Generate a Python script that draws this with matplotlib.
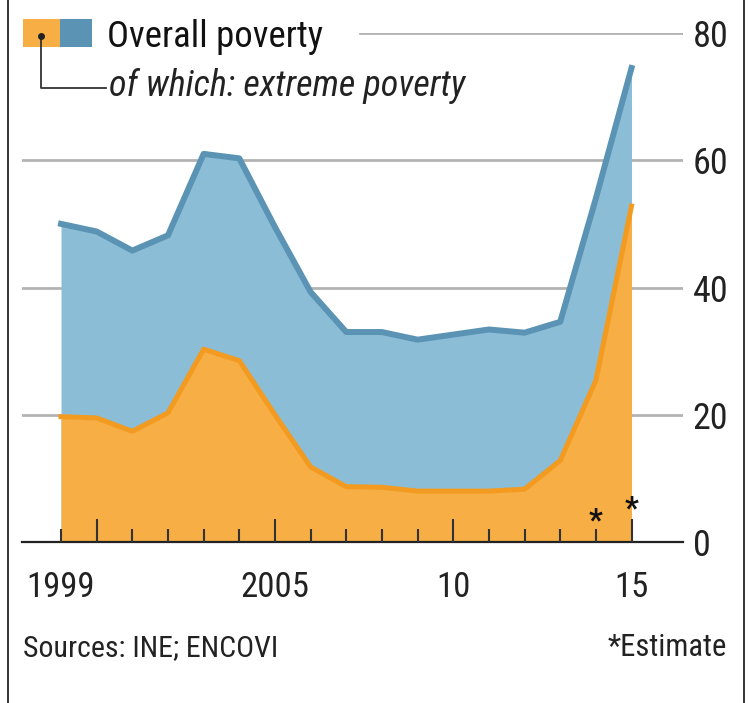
import matplotlib
matplotlib.use("Agg")
import matplotlib.pyplot as plt
from matplotlib.patches import Rectangle
from matplotlib.lines import Line2D

plt.rcParams['font.family'] = ['Liberation Sans Narrow', 'Roboto Condensed', 'Roboto', 'DejaVu Sans']

# data (poverty rate, % of households)
years = list(range(1999, 2016))
overall = [50.0, 48.8, 45.8, 48.2, 61.0, 60.3, 49.5, 39.3, 33.0, 33.0,
           31.8, 32.6, 33.4, 32.9, 34.6, 54.0, 74.5]
extreme = [19.7, 19.5, 17.4, 20.3, 30.3, 28.5, 20.0, 11.8, 8.7, 8.6,
           8.0, 8.0, 8.0, 8.3, 12.8, 25.4, 52.8]
estimate_years = [2014, 2015]
xlabels = {1999: "1999", 2005: "2005", 2010: "10", 2015: "15"}
yticks = [0, 20, 40, 60, 80]

W, H = 749, 703
blue_fill = "#8bbdd6"
blue_line = "#5a93b3"
orange_fill = "#f6ae45"
orange_line = "#f39b20"
grid_col = "#b3b3b3"
txt = "#222222"


def px(x, y):
    # pixel position -> figure fraction
    return x / W, 1 - y / H


fig = plt.figure(figsize=(W / 100, H / 100), dpi=100)
ax = fig.add_axes([22 / W, (H - 542) / H, 661 / W, 509 / H])

# gridlines
for v in yticks[1:-1]:
    ax.axhline(v, color=grid_col, lw=2, zorder=0)
ax.axhline(yticks[-1], xmin=0.511, xmax=1, color=grid_col, lw=2, zorder=0)

# areas
ax.fill_between(years, 0, overall, color=blue_fill, lw=0, zorder=1)
ax.plot(years, overall, color=blue_line, lw=4.3, zorder=2)
ax.fill_between(years, 0, extreme, color=orange_fill, lw=0, zorder=3)
ax.plot(years, extreme, color=orange_line, lw=3.6, zorder=4)

ax.set_xlim(1997.906, 2016.444)
ax.set_ylim(0, 80)

for s in ["top", "left", "right"]:
    ax.spines[s].set_visible(False)
ax.spines["bottom"].set_color(txt)
ax.spines["bottom"].set_linewidth(1.6)
ax.spines["bottom"].set_zorder(6)
ax.xaxis.set_zorder(6)

ax.set_xticks(years)
ax.set_xticklabels([xlabels.get(y, "") for y in years], fontsize=25, color=txt)
ax.tick_params(axis="x", direction="in", width=1.5, color="#333333", pad=21)
for y, tick in zip(years, ax.xaxis.get_major_ticks()):
    tick.tick1line.set_markersize(16.5 if y % 5 == 0 else 9.4)

ax.yaxis.tick_right()
ax.set_yticks(yticks)
ax.set_yticklabels([str(v) for v in yticks], fontsize=26, color=txt)
ax.tick_params(axis="y", length=0, pad=7)

# estimate markers
for i, yr in enumerate(estimate_years):
    ax.annotate("*", xy=(yr, 0), xytext=(0, 22 + 12 * i), textcoords="offset pixels",
                ha="center", va="center", fontsize=22, fontweight="bold",
                color="#111111", zorder=7)

# legend
x0, y0 = px(23, 47)
fig.patches.append(Rectangle((x0, y0), 37 / W, 28 / H, transform=fig.transFigure,
                             color=orange_fill, lw=0))
x0, y0 = px(60, 47)
fig.patches.append(Rectangle((x0, y0), 32 / W, 28 / H, transform=fig.transFigure,
                             color=blue_line, lw=0))
xs, ys = zip(px(41, 36), px(41, 88), px(106, 88))
fig.add_artist(Line2D(xs, ys, transform=fig.transFigure, color="#333333", lw=1.3))
fig.add_artist(Line2D([xs[0]], [ys[0]], transform=fig.transFigure, marker="o",
                      markersize=4, color=txt))
fig.text(*px(107, 47), "Overall poverty", fontsize=26.5, color="#111111", va="baseline")
fig.text(*px(109, 96), "of which: extreme poverty", fontsize=26, style="italic",
         color=txt, va="baseline")

# footer
fig.text(*px(23, 656), "Sources: INE; ENCOVI", fontsize=21.5, color=txt, va="baseline")
fig.text(*px(727, 656), "*Estimate", fontsize=22, color=txt, va="baseline", ha="right")

# side frame
for xf in [8, 744]:
    fig.add_artist(Line2D([xf / W] * 2, [0, 1], transform=fig.transFigure, color="#111111", lw=1.2))

fig.savefig("out.png", dpi=100)
